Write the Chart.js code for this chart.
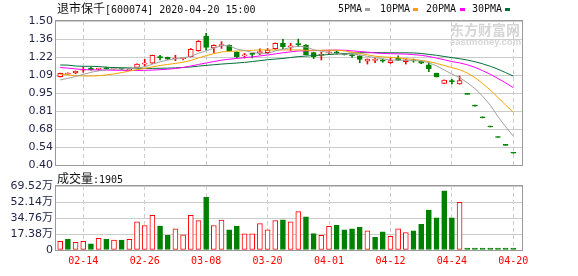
<!DOCTYPE html>
<html>
<head>
<meta charset="utf-8">
<script src="https://cdn.jsdelivr.net/npm/chart.js@4/dist/chart.umd.min.js"></script>
<style>
body { margin: 0; background: #fff; }
#wrap { position: relative; width: 578px; height: 276px; overflow: hidden; }
canvas { position: absolute; left: 0; }
.txt { position: absolute; font-family: 'DejaVu Sans Mono', 'Noto Sans CJK SC', monospace; font-size: 10px; line-height: 12px; color: #111; white-space: nowrap; }
.cn { font-family: 'Noto Sans CJK SC'; font-size: 12px; }
.sq { position: absolute; width: 5px; height: 3px; }
.wm { position: absolute; color: #d6d6d6; font-weight: bold; white-space: nowrap; }
</style>
</head>
<body>
<div id="wrap">
  <canvas id="price" width="578" height="176" style="top:0"></canvas>
  <canvas id="vol" width="578" height="106" style="top:170px"></canvas>

  <div class="txt" style="left:57px;top:2px"><span class="cn">退市保千</span>[600074] 2020-04-20 15:00</div>

  <div class="txt" style="left:338px;top:3px">5PMA</div>
  <div class="sq" style="left:365px;top:8px;background:#a0a0a0"></div>
  <div class="txt" style="left:380px;top:3px">10PMA</div>
  <div class="sq" style="left:413px;top:8px;background:#f5a300"></div>
  <div class="txt" style="left:426px;top:3px">20PMA</div>
  <div class="sq" style="left:460px;top:8px;background:#ff00ff"></div>
  <div class="txt" style="left:472px;top:3px">30PMA</div>
  <div class="sq" style="left:505px;top:8px;background:#00703a"></div>

  <div class="wm" style="left:450px;top:21px;font-family:'Noto Sans CJK SC';font-size:14px;line-height:16px">东方财富网</div>
  <div class="wm" style="left:450px;top:37px;font-family:'Liberation Sans';font-size:9.5px;line-height:10px">eastmoney.com</div>

  <div class="txt" style="left:57px;top:172px"><span class="cn">成交量</span>:1905</div>
</div>

<script>
// trading days, one candle each
const dates = ['02-11','02-12','02-13','02-14','02-17','02-18','02-19','02-20','02-21','02-24',
  '02-25','02-26','02-27','02-28','03-02','03-03','03-04','03-05','03-06','03-08',
  '03-09','03-10','03-11','03-12','03-13','03-16','03-17','03-20','03-23','03-24',
  '03-25','03-26','03-27','03-30','03-31','04-01','04-02','04-03','04-07','04-08',
  '04-09','04-10','04-11','04-12','04-13','04-14','04-15','04-16','04-17','04-20',
  '04-21','04-24','04-27','04-28','04-29','04-30','05-06','05-07','05-08','04-20'];

const open = [1.075,1.095,1.104,1.124,1.141,1.130,1.142,1.134,1.137,1.128,
  1.146,1.171,1.177,1.226,1.222,1.210,1.212,1.227,1.273,1.385,
  1.294,1.312,1.314,1.263,1.234,1.250,1.258,1.258,1.288,1.330,
  1.302,1.326,1.316,1.258,1.238,1.256,1.262,1.248,1.244,1.233,
  1.193,1.199,1.203,1.182,1.214,1.190,1.200,1.194,1.166,1.100,
  1.024,1.042,1.019,0.94,0.85,0.76,0.69,0.61,0.55,0.49];
const high = [1.102,1.105,1.118,1.146,1.147,1.140,1.148,1.145,1.140,1.137,
  1.172,1.207,1.240,1.238,1.225,1.238,1.223,1.290,1.350,1.406,
  1.318,1.342,1.318,1.265,1.253,1.253,1.288,1.290,1.332,1.360,
  1.330,1.362,1.320,1.260,1.263,1.264,1.272,1.250,1.246,1.235,
  1.210,1.214,1.210,1.215,1.233,1.206,1.210,1.196,1.181,1.102,
  1.050,1.054,1.080,0.94,0.85,0.76,0.69,0.61,0.55,0.49];
const low = [1.072,1.092,1.097,1.108,1.124,1.121,1.130,1.130,1.128,1.124,
  1.145,1.156,1.176,1.202,1.205,1.197,1.202,1.225,1.270,1.278,
  1.258,1.291,1.270,1.220,1.217,1.218,1.243,1.250,1.285,1.288,
  1.273,1.304,1.240,1.212,1.202,1.250,1.245,1.240,1.222,1.181,
  1.171,1.181,1.185,1.176,1.197,1.171,1.185,1.175,1.113,1.072,
  1.022,1.020,1.017,0.94,0.85,0.76,0.69,0.61,0.55,0.49];
const close = [1.100,1.098,1.117,1.130,1.126,1.136,1.135,1.139,1.132,1.134,
  1.170,1.176,1.238,1.220,1.208,1.214,1.218,1.284,1.345,1.299,
  1.314,1.318,1.273,1.227,1.240,1.245,1.264,1.278,1.330,1.304,
  1.308,1.320,1.243,1.228,1.245,1.260,1.257,1.243,1.236,1.207,
  1.209,1.203,1.194,1.197,1.200,1.203,1.195,1.177,1.136,1.074,
  1.049,1.037,1.044,0.94,0.85,0.76,0.69,0.61,0.55,0.49];

// volume in 万
const volume = [9.5,11.7,8.4,9.4,6.7,12.8,11.7,10.7,10.7,11.7,
  30.6,26.6,37.7,25.9,15.8,22.9,16.5,37.7,31.9,57.1,
  26.6,32.6,21.9,25.9,17.5,17.5,28.6,21.9,31.9,32.9,
  30.6,41.7,36.0,17.8,15.8,25.6,26.9,21.9,22.9,24.9,
  20.9,13.8,19.8,14.8,22.9,18.8,20.9,27.9,43.0,35.0,
  64.2,35.0,51.8,0.19,0.19,0.19,0.19,0.19,0.19,0.19];

const ma5 = [1.050,1.062,1.076,1.092,1.108,1.119,1.128,1.133,1.134,1.135,
  1.142,1.150,1.170,1.188,1.202,1.211,1.220,1.229,1.254,1.272,
  1.292,1.312,1.310,1.286,1.274,1.261,1.250,1.251,1.271,1.284,
  1.297,1.308,1.301,1.281,1.269,1.259,1.247,1.247,1.248,1.241,
  1.230,1.220,1.210,1.202,1.201,1.200,1.198,1.194,1.182,1.157,
  1.126,1.095,1.068,1.029,0.984,0.926,0.857,0.770,0.692,0.620];
const ma10 = [1.093,1.088,1.083,1.080,1.080,1.082,1.088,1.096,1.106,1.118,
  1.128,1.138,1.150,1.160,1.168,1.176,1.185,1.199,1.218,1.235,
  1.250,1.263,1.268,1.270,1.273,1.276,1.279,1.279,1.279,1.279,
  1.279,1.279,1.276,1.276,1.276,1.277,1.276,1.272,1.262,1.252,
  1.242,1.231,1.226,1.222,1.218,1.213,1.206,1.199,1.190,1.176,
  1.160,1.144,1.128,1.103,1.068,1.023,0.973,0.916,0.858,0.802];
const ma20 = [1.145,1.140,1.134,1.129,1.127,1.126,1.125,1.124,1.123,1.122,
  1.122,1.123,1.125,1.128,1.132,1.137,1.145,1.156,1.168,1.179,
  1.190,1.201,1.208,1.214,1.220,1.226,1.233,1.240,1.249,1.257,
  1.264,1.271,1.272,1.273,1.275,1.277,1.278,1.277,1.272,1.267,
  1.262,1.256,1.252,1.250,1.249,1.247,1.243,1.238,1.229,1.217,
  1.204,1.190,1.180,1.166,1.146,1.121,1.093,1.061,1.027,0.991];
const ma30 = [1.164,1.163,1.156,1.154,1.154,1.152,1.147,1.144,1.143,1.142,
  1.139,1.138,1.138,1.139,1.140,1.142,1.145,1.149,1.155,1.161,
  1.166,1.171,1.175,1.179,1.184,1.190,1.197,1.204,1.209,1.214,
  1.221,1.228,1.232,1.236,1.240,1.244,1.248,1.251,1.255,1.257,
  1.258,1.259,1.258,1.257,1.257,1.257,1.256,1.252,1.245,1.238,
  1.229,1.220,1.212,1.202,1.189,1.173,1.154,1.132,1.106,1.079];

const priceTicks = [0.40, 0.5375, 0.675, 0.8125, 0.95, 1.0875, 1.225, 1.3625, 1.50];
const priceTickLabels = ['0.40','0.54','0.68','0.81','0.95','1.09','1.22','1.36','1.50'];
const volTicks = [0, 17.38, 34.76, 52.14, 69.52];
const volTickLabels = ['0','17.38万','34.76万','52.14万','69.52万'];
const dateTicks = [3, 11, 19, 27, 35, 43, 51, 59];

const RED = '#ff0000';
const GREEN = '#008000';
const idx = dates.map((d, i) => i);

// candle colour: close vs open, flat candles follow the previous close
const candleUp = idx.map(i => {
  if (close[i] !== open[i]) return close[i] > open[i];
  return i === 0 || close[i] >= close[i - 1];
});
// volume colour: close vs previous close
const volUp = idx.map(i => i === 0 ? candleUp[0] : close[i] >= close[i - 1]);

// border around the plot area
const frame = {
  id: 'frame',
  afterDraw(chart) {
    const a = chart.chartArea, ctx = chart.ctx;
    ctx.save();
    ctx.strokeStyle = '#999999';
    ctx.lineWidth = 1;
    ctx.strokeRect(Math.round(a.left) - 0.5, Math.round(a.top) - 0.5,
      Math.round(a.right - a.left) + 1, Math.round(a.bottom - a.top) + 1);
    ctx.restore();
  }
};

const tickFont = { family: "'DejaVu Sans', 'Noto Sans CJK SC'", size: 11 };

function xAxis(showLabels) {
  return {
    type: 'linear',
    min: -0.55,
    max: 60.13,
    offset: false,
    afterBuildTicks: s => { s.ticks = dateTicks.map(v => ({ value: v })); },
    grid: { color: '#cccccc', drawTicks: false, offset: false },
    border: { display: false, dash: [4, 3] },
    ticks: {
      display: showLabels,
      autoSkip: false,
      maxRotation: 0,
      padding: 5,
      color: RED,
      font: { family: 'DejaVu Sans Mono', size: 10 },
      callback: v => dates[v]
    }
  };
}

function yAxis(min, max, ticks, labels) {
  return {
    min: min,
    max: max,
    afterBuildTicks: s => { s.ticks = ticks.map(v => ({ value: v })); },
    afterFit: s => { s.width = 56; },
    grid: { color: '#cccccc', drawTicks: false },
    border: { display: false },
    ticks: { autoSkip: false, padding: 3, color: '#1e2246', font: tickFont, callback: (v, i) => labels[i] }
  };
}

function maLine(values, color) {
  return {
    type: 'line',
    data: idx.map(i => ({ x: i, y: values[i] })),
    borderColor: color,
    borderWidth: 1,
    pointRadius: 0,
    tension: 0
  };
}

new Chart(document.getElementById('price'), {
  type: 'bar',
  data: {
    datasets: [
      maLine(ma5, '#a0a0a0'),
      maLine(ma10, '#f5a300'),
      maLine(ma20, '#ff00ff'),
      maLine(ma30, '#00703a'),
      {
        // candle bodies
        data: idx.map(i => ({ x: i, y: [open[i], close[i]] })),
        backgroundColor: idx.map(i => candleUp[i] ? '#ffffff' : GREEN),
        borderColor: idx.map(i => candleUp[i] ? RED : GREEN),
        borderWidth: 1,
        borderSkipped: false,
        barThickness: 5,
        minBarLength: 1,
        grouped: false
      },
      {
        // wicks
        data: idx.map(i => ({ x: i, y: [low[i], high[i]] })),
        backgroundColor: idx.map(i => candleUp[i] ? RED : GREEN),
        borderWidth: 0,
        barThickness: 1,
        minBarLength: 1,
        grouped: false
      }
    ]
  },
  options: {
    responsive: false,
    animation: false,
    events: [],
    layout: { padding: { top: 21, right: 56, bottom: 11, left: 0 } },
    plugins: { legend: { display: false }, tooltip: { enabled: false } },
    scales: {
      x: xAxis(false),
      y: yAxis(0.40, 1.50, priceTicks, priceTickLabels)
    }
  },
  plugins: [frame]
});

new Chart(document.getElementById('vol'), {
  type: 'bar',
  data: {
    datasets: [{
      data: idx.map(i => ({ x: i, y: volume[i] })),
      backgroundColor: idx.map(i => volUp[i] ? '#ffffff' : GREEN),
      borderColor: idx.map(i => volUp[i] ? RED : GREEN),
      borderWidth: 1,
      borderSkipped: false,
      barThickness: 5,
      minBarLength: 2
    }]
  },
  options: {
    responsive: false,
    animation: false,
    events: [],
    layout: { padding: { top: 16, right: 56, bottom: 4, left: 0 } },
    plugins: { legend: { display: false }, tooltip: { enabled: false } },
    scales: {
      x: xAxis(true),
      y: yAxis(0, 69.52, volTicks, volTickLabels)
    }
  },
  plugins: [frame]
});
</script>
</body>
</html>
